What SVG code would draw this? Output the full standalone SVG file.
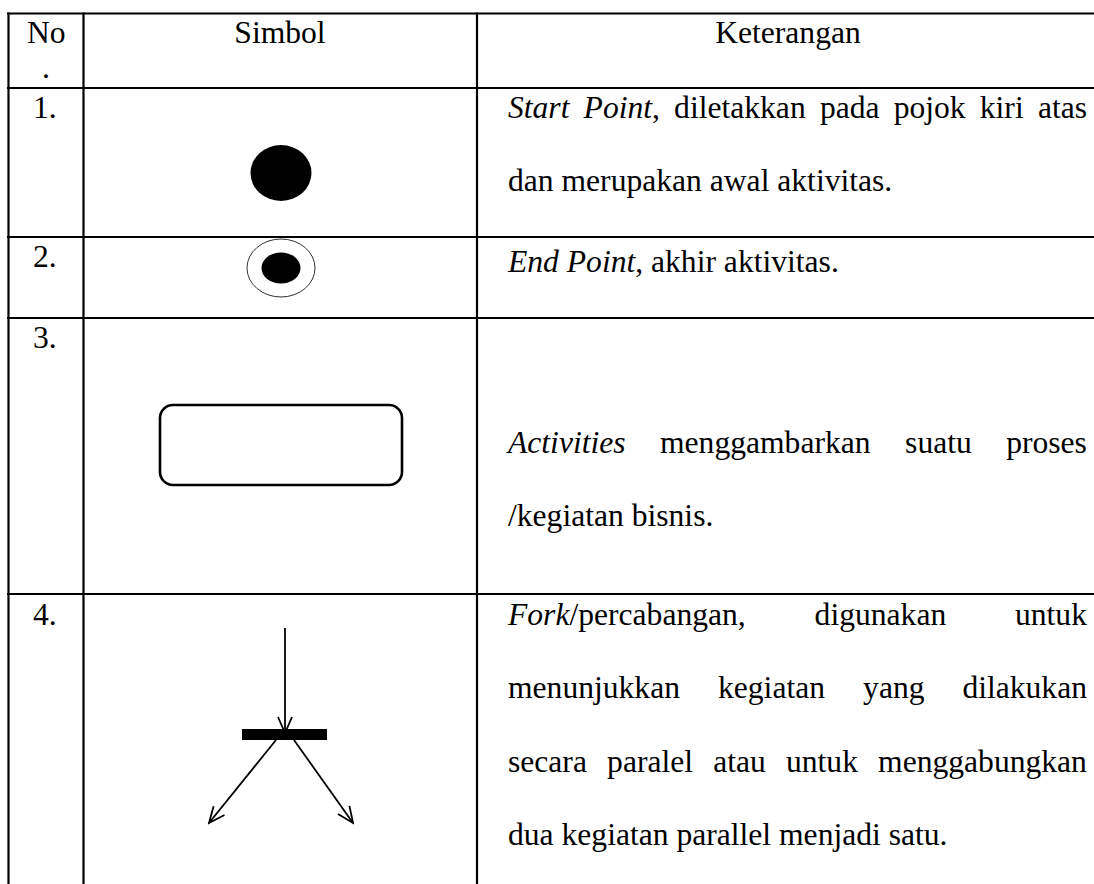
<svg xmlns="http://www.w3.org/2000/svg" width="1094" height="884" viewBox="0 0 1094 884">
<style>
.t{font-family:"Liberation Serif","Times New Roman",serif;font-size:31.6px;fill:#000}
.i{font-style:italic}
.grid{stroke:#000;stroke-width:2.2;fill:none}
.sym{stroke:#000;fill:none}
</style>
<defs>
<marker id="open" viewBox="0 0 20 20" refX="18" refY="10" markerWidth="20" markerHeight="20" markerUnits="userSpaceOnUse" orient="auto">
<path d="M2,3 L18,10 L2,17" fill="none" stroke="#000" stroke-width="1.8"/>
</marker>
</defs>
<rect width="1094" height="884" fill="#fff"/>
<g id="table">
<line class="grid" x1="7" y1="13.5" x2="1094" y2="13.5"/>
<line class="grid" x1="7" y1="88" x2="1094" y2="88"/>
<line class="grid" x1="7" y1="237" x2="1094" y2="237"/>
<line class="grid" x1="7" y1="318" x2="1094" y2="318"/>
<line class="grid" x1="7" y1="594" x2="1094" y2="594"/>
<line class="grid" x1="8.5" y1="12.5" x2="8.5" y2="884"/>
<line class="grid" x1="83.5" y1="12.5" x2="83.5" y2="884"/>
<line class="grid" x1="477" y1="12.5" x2="477" y2="884"/>
</g>
<g id="header">
<text class="t" x="27" y="43">No</text>
<text class="t" x="42" y="78">.</text>
<text class="t" x="280" y="43" text-anchor="middle">Simbol</text>
<text class="t" x="788" y="43" text-anchor="middle">Keterangan</text>
</g>
<g id="row1">
<text class="t" x="33" y="118">1.</text>
<ellipse id="start-point" cx="281" cy="173" rx="30.5" ry="28" fill="#000"/>
<text class="t" y="118"><tspan class="i" x="508">Start</tspan><tspan class="i" x="583.6">Point</tspan>,<tspan x="674.1">diletakkan</tspan><tspan x="819.9">pada</tspan><tspan x="893.7">pojok</tspan><tspan x="979.8">kiri</tspan><tspan x="1037.9">atas</tspan></text>
<text class="t" x="508" y="191">dan merupakan awal aktivitas.</text>
</g>
<g id="row2">
<text class="t" x="33" y="267">2.</text>
<g id="end-point">
<ellipse cx="281" cy="268" rx="34" ry="29" fill="#fff" stroke="#333" stroke-width="1"/>
<ellipse cx="281" cy="268" rx="19.5" ry="15.5" fill="#000"/>
</g>
<text class="t" x="508" y="272"><tspan class="i">End Point</tspan>, akhir aktivitas.</text>
</g>
<g id="row3">
<text class="t" x="33" y="348">3.</text>
<rect id="activity" x="160" y="405" width="242" height="80" rx="13" ry="13" fill="#fff" stroke="#000" stroke-width="2.6"/>
<text class="t" y="453"><tspan class="i" x="508">Activities</tspan><tspan x="660">menggambarkan</tspan><tspan x="905.1">suatu</tspan><tspan x="1006.2">proses</tspan></text>
<text class="t" x="508" y="526">/kegiatan bisnis.</text>
</g>
<g id="row4">
<text class="t" x="33" y="625">4.</text>
<g id="fork">
<rect x="242" y="729" width="85" height="11" fill="#000"/>
</g>
<text class="t" y="625"><tspan class="i" x="508">Fork</tspan>/percabangan,<tspan x="814.6">digunakan</tspan><tspan x="1015">untuk</tspan></text>
<text class="t" y="698"><tspan x="508">menunjukkan</tspan><tspan x="718">kegiatan</tspan><tspan x="863.1">yang</tspan><tspan x="962.4">dilakukan</tspan></text>
<text class="t" y="772"><tspan x="508">secara</tspan><tspan x="607.1">paralel</tspan><tspan x="713.2">atau</tspan><tspan x="786">untuk</tspan><tspan x="878.1">menggabungkan</tspan></text>
<text class="t" x="508" y="845">dua kegiatan parallel menjadi satu.</text>
</g>
<g id="connectors">
<line class="sym" x1="285" y1="628" x2="285" y2="733" stroke-width="1.8" marker-end="url(#open)"/>
<line class="sym" x1="276" y1="740" x2="209" y2="823" stroke-width="1.8" marker-end="url(#open)"/>
<line class="sym" x1="294" y1="740" x2="353" y2="823" stroke-width="1.8" marker-end="url(#open)"/>
</g>
</svg>
